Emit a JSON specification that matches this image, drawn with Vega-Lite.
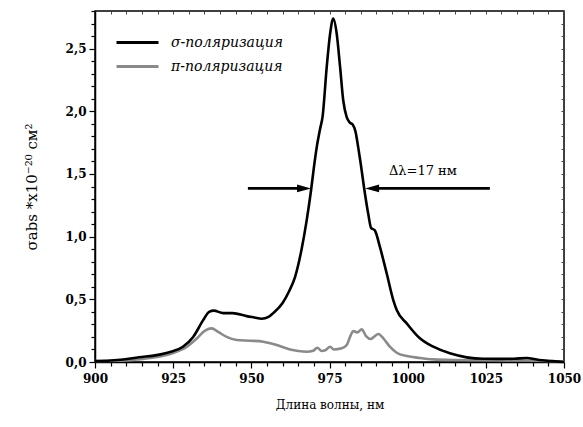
{
  "$schema": "https://vega.github.io/schema/vega-lite/v6.json",
  "autosize": {"type": "none"},
  "width": 469,
  "height": 351,
  "padding": {"left": 95, "top": 11, "right": 19, "bottom": 65},
  "config": {
    "view": {"stroke": "black", "strokeWidth": 1.5},
    "font": "DejaVu Serif"
  },
  "resolve": {"axis": {"x": "independent", "y": "independent"}, "scale": {"color": "independent"}},
  "layer": [
    {
      "data": {"values": [
        {"wl": 900, "val": 0.008, "pol": "π-поляризация"},
        {"wl": 909, "val": 0.01, "pol": "π-поляризация"},
        {"wl": 914.4, "val": 0.022, "pol": "π-поляризация"},
        {"wl": 919.7, "val": 0.04, "pol": "π-поляризация"},
        {"wl": 925, "val": 0.072, "pol": "π-поляризация"},
        {"wl": 929.3, "val": 0.12, "pol": "π-поляризация"},
        {"wl": 932.5, "val": 0.186, "pol": "π-поляризация"},
        {"wl": 935.2, "val": 0.25, "pol": "π-поляризация"},
        {"wl": 937.3, "val": 0.268, "pol": "π-поляризация"},
        {"wl": 939.4, "val": 0.24, "pol": "π-поляризация"},
        {"wl": 942.1, "val": 0.2, "pol": "π-поляризация"},
        {"wl": 945.3, "val": 0.176, "pol": "π-поляризация"},
        {"wl": 949.6, "val": 0.17, "pol": "π-поляризация"},
        {"wl": 953.8, "val": 0.162, "pol": "π-поляризация"},
        {"wl": 958.1, "val": 0.135, "pol": "π-поляризация"},
        {"wl": 962.4, "val": 0.1, "pol": "π-поляризация"},
        {"wl": 965, "val": 0.088, "pol": "π-поляризация"},
        {"wl": 967.7, "val": 0.082, "pol": "π-поляризация"},
        {"wl": 969.8, "val": 0.09, "pol": "π-поляризация"},
        {"wl": 971.1, "val": 0.114, "pol": "π-поляризация"},
        {"wl": 972.5, "val": 0.088, "pol": "π-поляризация"},
        {"wl": 973.8, "val": 0.096, "pol": "π-поляризация"},
        {"wl": 975.2, "val": 0.122, "pol": "π-поляризация"},
        {"wl": 976.4, "val": 0.1, "pol": "π-поляризация"},
        {"wl": 978.9, "val": 0.109, "pol": "π-поляризация"},
        {"wl": 980.5, "val": 0.135, "pol": "π-поляризация"},
        {"wl": 981.8, "val": 0.215, "pol": "π-поляризация"},
        {"wl": 982.6, "val": 0.247, "pol": "π-поляризация"},
        {"wl": 983.9, "val": 0.236, "pol": "π-поляризация"},
        {"wl": 985.3, "val": 0.26, "pol": "π-поляризация"},
        {"wl": 986.7, "val": 0.207, "pol": "π-поляризация"},
        {"wl": 988.2, "val": 0.183, "pol": "π-поляризация"},
        {"wl": 989.2, "val": 0.2, "pol": "π-поляризация"},
        {"wl": 990.6, "val": 0.223, "pol": "π-поляризация"},
        {"wl": 992.2, "val": 0.189, "pol": "π-поляризация"},
        {"wl": 994.3, "val": 0.122, "pol": "π-поляризация"},
        {"wl": 996.5, "val": 0.074, "pol": "π-поляризация"},
        {"wl": 999.7, "val": 0.048, "pol": "π-поляризация"},
        {"wl": 1003.9, "val": 0.032, "pol": "π-поляризация"},
        {"wl": 1008.2, "val": 0.021, "pol": "π-поляризация"},
        {"wl": 1015, "val": 0.016, "pol": "π-поляризация"},
        {"wl": 1025, "val": 0.014, "pol": "π-поляризация"},
        {"wl": 1035, "val": 0.012, "pol": "π-поляризация"},
        {"wl": 1045, "val": 0.008, "pol": "π-поляризация"},
        {"wl": 1050, "val": 0.004, "pol": "π-поляризация"}
      ]},
      "mark": {"type": "line", "interpolate": "monotone", "strokeWidth": 2.6},
      "encoding": {
        "x": {
          "field": "wl", "type": "quantitative",
          "scale": {"domain": [900, 1050], "nice": false, "zero": false},
          "axis": {
            "orient": "bottom",
            "title": "Длина волны, нм",
            "titleFont": "DejaVu Serif", "titleFontSize": 12, "titleFontWeight": "normal", "titleColor": "black", "titlePadding": 15,
            "values": [900,905,910,915,920,925,930,935,940,945,950,955,960,965,970,975,980,985,990,995,1000,1005,1010,1015,1020,1025,1030,1035,1040,1045,1050],
            "labelExpr": "datum.value % 25 === 0 ? format(datum.value, 'd') : ''",
            "labelOverlap": false,
            "labelFont": "DejaVu Serif", "labelFontSize": 12, "labelFontWeight": "bold", "labelColor": "black", "labelPadding": 5,
            "labelFlush": false,
            "tickColor": "black", "tickWidth": 1.2,
            "tickSize": {"condition": {"test": "datum.value % 25 === 0", "value": 6}, "value": 4},
            "domainColor": "black", "domainWidth": 1.5,
            "grid": false
          }
        },
        "y": {
          "field": "val", "type": "quantitative",
          "scale": {"domain": [0, 2.8], "nice": false},
          "axis": {
            "orient": "left",
            "title": "σabs *x10⁻²⁰ см²",
            "titleFont": "DejaVu Serif", "titleFontSize": 15, "titleFontWeight": "normal", "titleColor": "black", "titlePadding": 26,
            "values": [0,0.1,0.2,0.3,0.4,0.5,0.6,0.7,0.8,0.9,1,1.1,1.2,1.3,1.4,1.5,1.6,1.7,1.8,1.9,2,2.1,2.2,2.3,2.4,2.5,2.6,2.7,2.8],
            "labelExpr": "round(datum.value * 10) % 5 === 0 ? replace(format(datum.value, '.1f'), '.', ',') : ''",
            "labelOverlap": false,
            "labelFont": "DejaVu Serif", "labelFontSize": 12, "labelFontWeight": "bold", "labelColor": "black", "labelPadding": 3,
            "tickColor": "black", "tickWidth": 1.2,
            "tickSize": {"condition": {"test": "round(datum.value * 10) % 5 === 0", "value": 6}, "value": 4},
            "domainColor": "black", "domainWidth": 1.5,
            "grid": false
          }
        },
        "color": {
          "field": "pol", "type": "nominal",
          "scale": {"domain": ["π-поляризация"], "range": ["#8a8a8a"]},
          "legend": {
            "title": null,
            "orient": "none", "legendX": 20, "legendY": 33,
            "symbolType": "stroke", "symbolSize": 1764, "symbolStrokeWidth": 3,
            "labelFont": "DejaVu Serif", "labelFontSize": 14, "labelFontStyle": "italic", "labelColor": "black",
            "labelOffset": 11, "padding": 0
          }
        }
      }
    },
    {
      "data": {"values": [
        {"wl": 900, "val": 0.008, "pol": "σ-поляризация"},
        {"wl": 905, "val": 0.012, "pol": "σ-поляризация"},
        {"wl": 909, "val": 0.02, "pol": "σ-поляризация"},
        {"wl": 914, "val": 0.038, "pol": "σ-поляризация"},
        {"wl": 919.7, "val": 0.055, "pol": "σ-поляризация"},
        {"wl": 924, "val": 0.08, "pol": "σ-поляризация"},
        {"wl": 928, "val": 0.12, "pol": "σ-поляризация"},
        {"wl": 931.4, "val": 0.2, "pol": "σ-поляризация"},
        {"wl": 934.6, "val": 0.334, "pol": "σ-поляризация"},
        {"wl": 936.5, "val": 0.4, "pol": "σ-поляризация"},
        {"wl": 938, "val": 0.41, "pol": "σ-поляризация"},
        {"wl": 941, "val": 0.39, "pol": "σ-поляризация"},
        {"wl": 944, "val": 0.39, "pol": "σ-поляризация"},
        {"wl": 948.5, "val": 0.366, "pol": "σ-поляризация"},
        {"wl": 951, "val": 0.355, "pol": "σ-поляризация"},
        {"wl": 953.3, "val": 0.345, "pol": "σ-поляризация"},
        {"wl": 955.5, "val": 0.36, "pol": "σ-поляризация"},
        {"wl": 957, "val": 0.39, "pol": "σ-поляризация"},
        {"wl": 960, "val": 0.47, "pol": "σ-поляризация"},
        {"wl": 962, "val": 0.56, "pol": "σ-поляризация"},
        {"wl": 964, "val": 0.68, "pol": "σ-поляризация"},
        {"wl": 966, "val": 0.89, "pol": "σ-поляризация"},
        {"wl": 967.7, "val": 1.13, "pol": "σ-поляризация"},
        {"wl": 969.1, "val": 1.37, "pol": "σ-поляризация"},
        {"wl": 970, "val": 1.55, "pol": "σ-поляризация"},
        {"wl": 970.9, "val": 1.71, "pol": "σ-поляризация"},
        {"wl": 972, "val": 1.86, "pol": "σ-поляризация"},
        {"wl": 972.8, "val": 1.96, "pol": "σ-поляризация"},
        {"wl": 974.1, "val": 2.35, "pol": "σ-поляризация"},
        {"wl": 975.2, "val": 2.62, "pol": "σ-поляризация"},
        {"wl": 976.2, "val": 2.74, "pol": "σ-поляризация"},
        {"wl": 977.3, "val": 2.62, "pol": "σ-поляризация"},
        {"wl": 978.4, "val": 2.35, "pol": "σ-поляризация"},
        {"wl": 979.4, "val": 2.086, "pol": "σ-поляризация"},
        {"wl": 980.5, "val": 1.953, "pol": "σ-поляризация"},
        {"wl": 981.5, "val": 1.91, "pol": "σ-поляризация"},
        {"wl": 982.4, "val": 1.895, "pol": "σ-поляризация"},
        {"wl": 983.3, "val": 1.84, "pol": "σ-поляризация"},
        {"wl": 984.2, "val": 1.71, "pol": "σ-поляризация"},
        {"wl": 985, "val": 1.58, "pol": "σ-поляризация"},
        {"wl": 986, "val": 1.4, "pol": "σ-поляризация"},
        {"wl": 987.4, "val": 1.18, "pol": "σ-поляризация"},
        {"wl": 988.3, "val": 1.07, "pol": "σ-поляризация"},
        {"wl": 989.5, "val": 1.05, "pol": "σ-поляризация"},
        {"wl": 991.1, "val": 0.92, "pol": "σ-поляризация"},
        {"wl": 993.3, "val": 0.706, "pol": "σ-поляризация"},
        {"wl": 995.4, "val": 0.494, "pol": "σ-поляризация"},
        {"wl": 996.5, "val": 0.414, "pol": "σ-поляризация"},
        {"wl": 999.7, "val": 0.308, "pol": "σ-поляризация"},
        {"wl": 1003.9, "val": 0.189, "pol": "σ-поляризация"},
        {"wl": 1008.2, "val": 0.122, "pol": "σ-поляризация"},
        {"wl": 1013.5, "val": 0.069, "pol": "σ-поляризация"},
        {"wl": 1018.9, "val": 0.037, "pol": "σ-поляризация"},
        {"wl": 1024.2, "val": 0.026, "pol": "σ-поляризация"},
        {"wl": 1030, "val": 0.025, "pol": "σ-поляризация"},
        {"wl": 1034, "val": 0.026, "pol": "σ-поляризация"},
        {"wl": 1038, "val": 0.032, "pol": "σ-поляризация"},
        {"wl": 1042, "val": 0.016, "pol": "σ-поляризация"},
        {"wl": 1046, "val": 0.008, "pol": "σ-поляризация"},
        {"wl": 1050, "val": 0.0, "pol": "σ-поляризация"}
      ]},
      "mark": {"type": "line", "interpolate": "monotone", "strokeWidth": 2.6},
      "encoding": {
        "x": {"field": "wl", "type": "quantitative", "axis": null},
        "y": {"field": "val", "type": "quantitative", "axis": null},
        "color": {
          "field": "pol", "type": "nominal",
          "scale": {"domain": ["σ-поляризация"], "range": ["#000000"]},
          "legend": {
            "title": null,
            "orient": "none", "legendX": 20, "legendY": 9,
            "symbolType": "stroke", "symbolSize": 1764, "symbolStrokeWidth": 3,
            "labelFont": "DejaVu Serif", "labelFontSize": 14, "labelFontStyle": "italic", "labelColor": "black",
            "labelOffset": 11, "padding": 0
          }
        }
      }
    },
    {
      "data": {"values": [
        {"x1": 948.9, "x2": 967, "y": 1.385},
        {"x1": 988.5, "x2": 1026.3, "y": 1.385}
      ]},
      "mark": {"type": "rule", "color": "black", "strokeWidth": 2.6},
      "encoding": {
        "x": {"field": "x1", "type": "quantitative", "axis": {
          "orient": "top", "title": null, "labels": false, "domain": false,
          "values": [900,905,910,915,920,925,930,935,940,945,950,955,960,965,970,975,980,985,990,995,1000,1005,1010,1015,1020,1025,1030,1035,1040,1045,1050],
          "tickSize": -3, "tickColor": "#444444", "tickWidth": 1, "grid": false}},
        "x2": {"field": "x2"},
        "y": {"field": "y", "type": "quantitative", "axis": {
          "orient": "right", "title": null, "labels": false, "domain": false,
          "values": [0,0.1,0.2,0.3,0.4,0.5,0.6,0.7,0.8,0.9,1,1.1,1.2,1.3,1.4,1.5,1.6,1.7,1.8,1.9,2,2.1,2.2,2.3,2.4,2.5,2.6,2.7,2.8],
          "tickSize": -3, "tickColor": "#444444", "tickWidth": 1, "grid": false}}
      }
    },
    {
      "data": {"values": [{"x": 969.1, "y": 1.385}]},
      "mark": {"type": "point", "shape": "M0,0L-1,-0.28L-1,0.28Z", "filled": true, "size": 784, "color": "black", "opacity": 1},
      "encoding": {
        "x": {"field": "x", "type": "quantitative", "axis": null},
        "y": {"field": "y", "type": "quantitative", "axis": null}
      }
    },
    {
      "data": {"values": [{"x": 986.4, "y": 1.385}]},
      "mark": {"type": "point", "shape": "M0,0L1,-0.28L1,0.28Z", "filled": true, "size": 784, "color": "black", "opacity": 1},
      "encoding": {
        "x": {"field": "x", "type": "quantitative", "axis": null},
        "y": {"field": "y", "type": "quantitative", "axis": null}
      }
    },
    {
      "data": {"values": [{"x": 994, "y": 1.52, "label": "Δλ=17 нм"}]},
      "mark": {"type": "text", "align": "left", "baseline": "middle", "font": "DejaVu Serif", "fontSize": 13, "color": "black"},
      "encoding": {
        "x": {"field": "x", "type": "quantitative", "axis": null},
        "y": {"field": "y", "type": "quantitative", "axis": null},
        "text": {"field": "label"}
      }
    }
  ]
}
